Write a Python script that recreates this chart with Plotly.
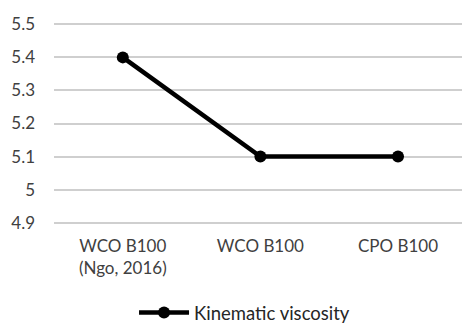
import plotly.graph_objects as go

categories = ["WCO B100<br>(Ngo, 2016)", "WCO B100", "CPO B100"]
viscosity = [5.4, 5.1, 5.1]
ytick_vals = [4.9, 5.0, 5.1, 5.2, 5.3, 5.4, 5.5]
ytick_text = ["4.9", "5", "5.1", "5.2", "5.3", "5.4", "5.5"]

fig = go.Figure()
fig.add_trace(go.Scatter(
    x=[0, 1, 2], y=viscosity, mode="lines+markers",
    name="Kinematic viscosity",
    line=dict(color="black", width=4.5),
    marker=dict(color="black", size=12),
))
fig.update_layout(
    width=462, height=332,
    margin=dict(l=54, r=0, t=23, b=108),
    paper_bgcolor="white", plot_bgcolor="white",
    font=dict(family="Lato, Open Sans, sans-serif", size=17, color="#404040"),
    showlegend=True,
    legend=dict(orientation="h", x=0.467, xanchor="center",
                yref="container", y=0.057, yanchor="middle",
                font=dict(size=18.5, color="#262626"), itemwidth=50),
    xaxis=dict(range=[-0.5, 2.465], tickvals=[0, 1, 2], ticktext=categories,
               showgrid=False, zeroline=False, showline=False, ticks="",
               ticklabelstandoff=10, automargin=False,
               tickfont=dict(size=17, color="#404040")),
    yaxis=dict(range=[4.896, 5.504], tickmode="array", tickvals=ytick_vals, ticktext=ytick_text,
               showgrid=True, gridcolor="#cfcfcf", gridwidth=1.5,
               zeroline=False,
               showline=False, ticks="", ticklabelstandoff=18, automargin=False,
               tickfont=dict(size=17, color="#404040")),
)
fig.write_html("out.html")
